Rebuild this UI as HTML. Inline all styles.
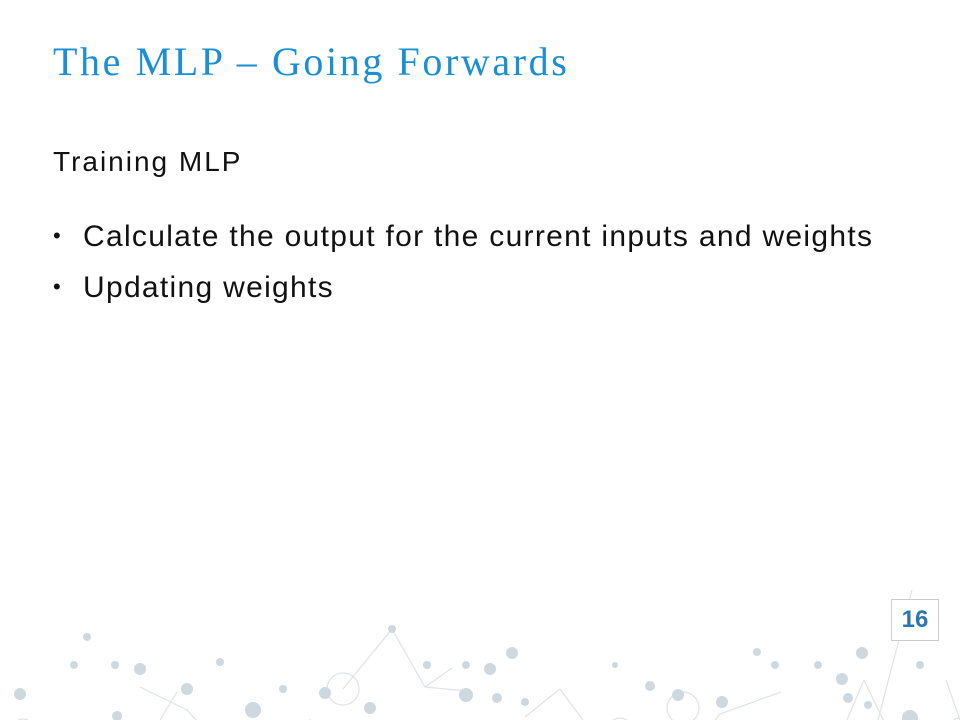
<!DOCTYPE html>
<html><head><meta charset="utf-8"><style>
html,body{margin:0;width:960px;height:720px;overflow:hidden;background:#fff;font-family:"Liberation Sans",sans-serif;position:relative}
#title{position:absolute;left:53px;top:38px;font-family:"Liberation Serif",serif;font-size:40px;color:#1a8fd6;letter-spacing:2.6px}
#sub{position:absolute;left:53px;top:146px;font-size:28px;color:#111;letter-spacing:2px}
ul{position:absolute;left:53px;top:220px;margin:0;padding:0;list-style:none;font-size:30px;color:#111;letter-spacing:1.3px}
li{height:51px;white-space:nowrap}
li:before{content:"•";display:inline-block;width:30px;font-size:22px;vertical-align:3px}
#pn{position:absolute;left:891px;top:599px;width:46px;height:40px;border:1px solid #ccc;background:#fff;color:#2e75b6;font-weight:bold;font-size:24px;text-align:center;line-height:40px}
svg{position:absolute;left:0;top:590px;overflow:hidden}
</style></head><body>
<div id="title">The MLP – Going Forwards</div>
<div id="sub">Training MLP</div>
<ul>
<li>Calculate the output for the current inputs and weights</li>
<li>Updating weights</li>
</ul>
<svg width="960" height="130">
<g stroke="#dfe4e8" stroke-width="1.2" fill="none">
<path d="M74 132 L115 150 L78 190 M115 150 L135 178 M140 97 L187 120 L205 140 M160 130 L177 102 M258 193 L300 187 M325 165 L310 129 M343 99 L392 39 M392 39 L425 97 L466 101 M425 97 L452 78 M252 220 L310 187 L328 174 M525 127 L560 99 M560 99 L605 160 L616 183 M605 160 L673 148 M680 190 L700 149 L720 124 L781 102 M757 130 L680 190 M830 170 L864 90 M864 90 L912 190 M878 130 L912 0 M946 90 L960 130"/>
<circle cx="23" cy="140" r="11"/><circle cx="80" cy="160" r="14"/><circle cx="187" cy="180" r="12"/><circle cx="265" cy="145" r="12"/><circle cx="280" cy="180" r="14"/><circle cx="343" cy="99" r="16"/><circle cx="373" cy="144" r="12"/><circle cx="430" cy="190" r="14"/><circle cx="620" cy="140" r="12"/><circle cx="683" cy="118" r="16"/><circle cx="723" cy="145" r="12"/><circle cx="782" cy="190" r="14"/><circle cx="850" cy="200" r="12"/><circle cx="960" cy="140" r="12"/>
</g>
<g fill="#cfd8df">
<circle cx="87" cy="47" r="4"/><circle cx="74" cy="75" r="4"/><circle cx="115" cy="75" r="4"/><circle cx="140" cy="79" r="6"/><circle cx="187" cy="99" r="6"/><circle cx="220" cy="72" r="4"/><circle cx="265" cy="145" r="3"/><circle cx="283" cy="99" r="4"/><circle cx="325" cy="103" r="6"/><circle cx="370" cy="118" r="6"/><circle cx="392" cy="39" r="4"/><circle cx="427" cy="75" r="4"/><circle cx="490" cy="79" r="6"/><circle cx="466" cy="75" r="4"/><circle cx="466" cy="105" r="7"/><circle cx="497" cy="108" r="5"/><circle cx="525" cy="112" r="4"/><circle cx="512" cy="63" r="6"/><circle cx="615" cy="75" r="3"/><circle cx="650" cy="96" r="5"/><circle cx="678" cy="105" r="6"/><circle cx="722" cy="112" r="6"/><circle cx="757" cy="62" r="4"/><circle cx="775" cy="75" r="4"/><circle cx="818" cy="75" r="4"/><circle cx="842" cy="89" r="6"/><circle cx="862" cy="63" r="6"/><circle cx="848" cy="108" r="5"/><circle cx="868" cy="115" r="4"/><circle cx="920" cy="75" r="4"/><circle cx="910" cy="128" r="8"/><circle cx="20" cy="104" r="6"/><circle cx="117" cy="126" r="5"/><circle cx="253" cy="120" r="8"/>
</g>
</svg>
<div id="pn">16</div>
</body></html>
